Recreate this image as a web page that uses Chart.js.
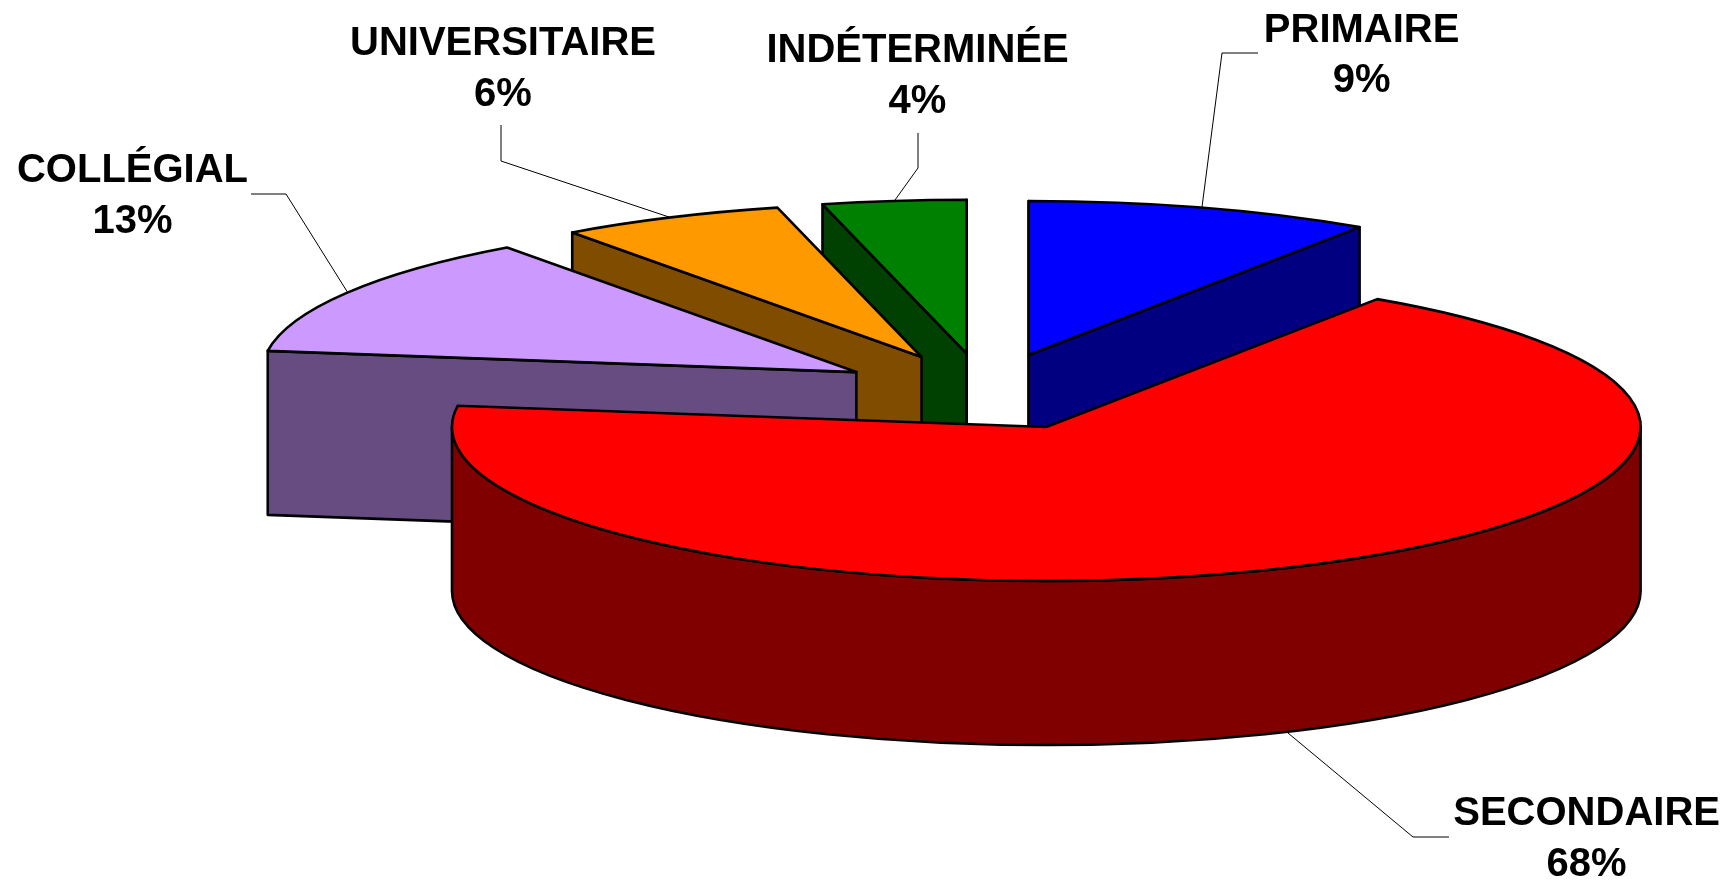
<!DOCTYPE html>
<html lang="fr">
<head>
<meta charset="utf-8">
<title>Répartition par niveau de scolarité</title>
<script src="https://cdn.jsdelivr.net/npm/chart.js@4"></script>
<style>
html,body{margin:0;padding:0;background:#fff;overflow:hidden}
canvas{display:block}
</style>
</head>
<body>
<canvas id="c" width="1729" height="880"></canvas>
<script>
// Data
const categories = ["PRIMAIRE", "SECONDAIRE", "COLLÉGIAL", "UNIVERSITAIRE", "INDÉTERMINÉE"];
const shares = [9.4, 67.8, 12.8, 6.1, 3.9];

// Styles
const topColors = ["#0000FF", "#FF0000", "#CC99FF", "#FF9900", "#008000"];
const wallColors = ["#000080", "#800000", "#664C80", "#804C00", "#004000"];

// 3D projection layout
const pieCentre = [985, 391.9];
const radiusX = 594.3, radiusY = 154, depth = 164;
const explodeX = 150, explodeY = 38.5;
const edgeWidth = 2.6;
const paintOrder = [4, 0, 3, 2, 1];

// Label layout
const labelCentres = [[1361.6, 41.7], [1586.6, 825], [132.5, 182], [503, 55], [917.5, 62]];
const lineGap = 50.5;
const leaders = [
  [[1258, 53], [1222, 53], [1202, 207]],
  [[1449, 837], [1413, 837], [1288, 733]],
  [[251, 194], [286, 194], [348, 293]],
  [[501, 125], [501, 161], [669, 217]],
  [[918, 133], [918, 168], [895, 200]]
];

const pie3d = {
  id: 'pie3d',
  beforeDatasetDraw(chart) {
    const ctx = chart.ctx;
    const arcs = chart.getDatasetMeta(0).data;
    ctx.lineJoin = 'round';
    paintOrder.forEach(i => {
      const el = arcs[i];
      const s = el.startAngle, e = el.endAngle, mid = (s + e) / 2;
      const cx = pieCentre[0] + explodeX * Math.cos(mid);
      const cy = pieCentre[1] + explodeY * Math.sin(mid);
      const px = a => cx + radiusX * Math.cos(a);
      const py = a => cy + radiusY * Math.sin(a);

      const paint = (fill) => {
        ctx.fillStyle = fill;
        ctx.fill();
        ctx.strokeStyle = '#000';
        ctx.lineWidth = edgeWidth;
        ctx.stroke();
      };
      const radialWall = a => {
        ctx.beginPath();
        ctx.moveTo(cx, cy);
        ctx.lineTo(px(a), py(a));
        ctx.lineTo(px(a), py(a) + depth);
        ctx.lineTo(cx, cy + depth);
        ctx.closePath();
        paint(wallColors[i]);
      };

      // Side faces that look towards the viewer
      if (Math.cos(s) <= 1e-9) radialWall(s);
      if (Math.cos(e) >= -1e-9) radialWall(e);
      const a0 = Math.max(s, 0), a1 = Math.min(e, Math.PI);
      if (a1 > a0) {
        ctx.beginPath();
        ctx.ellipse(cx, cy, radiusX, radiusY, 0, a0, a1);
        ctx.ellipse(cx, cy + depth, radiusX, radiusY, 0, a1, a0, true);
        ctx.closePath();
        paint(wallColors[i]);
      }

      // Top face: the library's own arc, squashed into the projection
      ctx.save();
      ctx.translate(cx, cy);
      ctx.scale(radiusX / el.outerRadius, radiusY / el.outerRadius);
      ctx.translate(-el.x, -el.y);
      el.draw(ctx);
      ctx.restore();

      ctx.beginPath();
      ctx.moveTo(cx, cy);
      ctx.ellipse(cx, cy, radiusX, radiusY, 0, s, e);
      ctx.closePath();
      ctx.strokeStyle = '#000';
      ctx.lineWidth = edgeWidth;
      ctx.stroke();
    });
    return false;
  },
  afterDraw(chart) {
    const ctx = chart.ctx;
    ctx.save();
    ctx.strokeStyle = '#000';
    ctx.lineWidth = 1;
    leaders.forEach(pts => {
      ctx.beginPath();
      pts.forEach((p, k) => k ? ctx.lineTo(p[0], p[1]) : ctx.moveTo(p[0], p[1]));
      ctx.stroke();
    });
    ctx.fillStyle = '#000';
    ctx.font = 'bold 40px "Liberation Sans", Arial, sans-serif';
    ctx.textAlign = 'center';
    ctx.textBaseline = 'alphabetic';
    categories.forEach((name, i) => {
      const [x, y] = labelCentres[i];
      ctx.fillText(name, x, y);
      ctx.fillText(Math.round(shares[i]) + '%', x, y + lineGap);
    });
    ctx.restore();
  }
};

new Chart(document.getElementById('c'), {
  type: 'pie',
  data: {
    labels: categories,
    datasets: [{ data: shares, backgroundColor: topColors, borderWidth: 0 }]
  },
  options: {
    responsive: false,
    animation: false,
    plugins: { legend: { display: false }, tooltip: { enabled: false } }
  },
  plugins: [pie3d]
});
</script>
</body>
</html>
